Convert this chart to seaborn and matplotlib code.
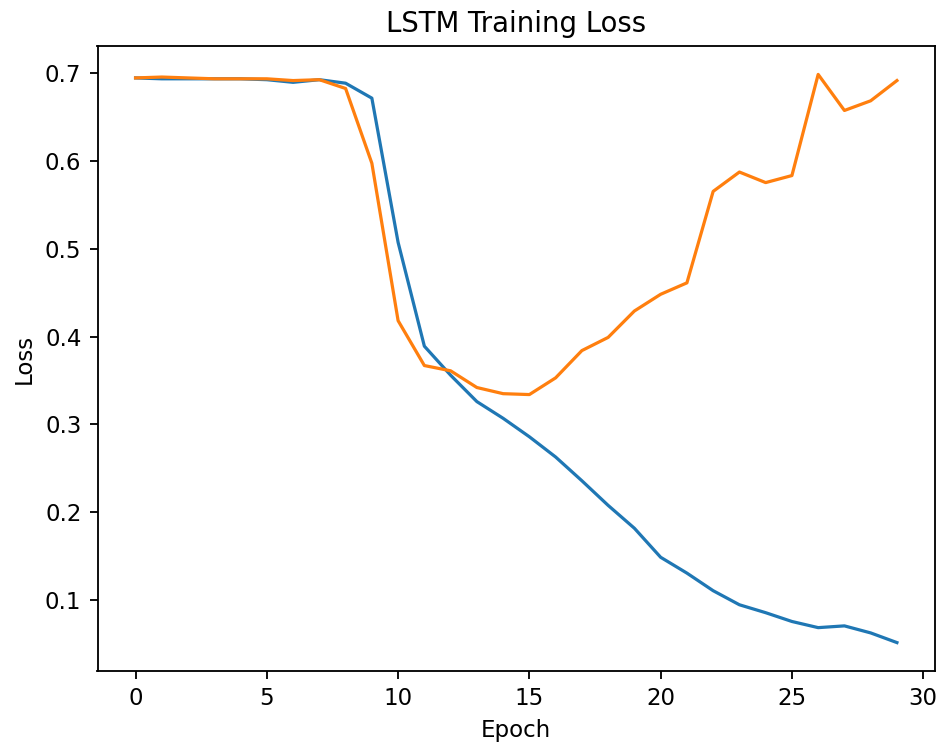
import matplotlib
matplotlib.use("Agg")
import matplotlib.pyplot as plt
import seaborn as sns
import pandas as pd

epochs = list(range(30))
train_loss = [0.694, 0.693, 0.693, 0.693, 0.693, 0.692, 0.689, 0.692, 0.688, 0.671,
              0.507, 0.389, 0.356, 0.326, 0.307, 0.286, 0.263, 0.236, 0.208, 0.182,
              0.149, 0.131, 0.111, 0.095, 0.086, 0.076, 0.069, 0.071, 0.063, 0.052]
val_loss = [0.694, 0.695, 0.694, 0.693, 0.693, 0.693, 0.691, 0.692, 0.682, 0.597,
            0.418, 0.367, 0.361, 0.342, 0.335, 0.334, 0.353, 0.384, 0.399, 0.429,
            0.448, 0.461, 0.565, 0.587, 0.575, 0.583, 0.698, 0.657, 0.668, 0.691]

df = pd.DataFrame({"Epoch": epochs, "train": train_loss, "val": val_loss})

dpi = 165
W, H = 941, 744
fig = plt.figure(figsize=(W / dpi, H / dpi), dpi=dpi)
ax = fig.add_axes([97.5 / W, 1 - 671 / H, (935 - 97.5) / W, (671 - 46) / H])

sns.lineplot(data=df, x="Epoch", y="train", ax=ax, color="#1f77b4", linewidth=1.4)
sns.lineplot(data=df, x="Epoch", y="val", ax=ax, color="#ff7f0e", linewidth=1.4)

ax.set_title("LSTM Training Loss")
ax.set_xlabel("Epoch")
ax.set_ylabel("Loss")

fig.savefig("out.png", dpi=dpi)
